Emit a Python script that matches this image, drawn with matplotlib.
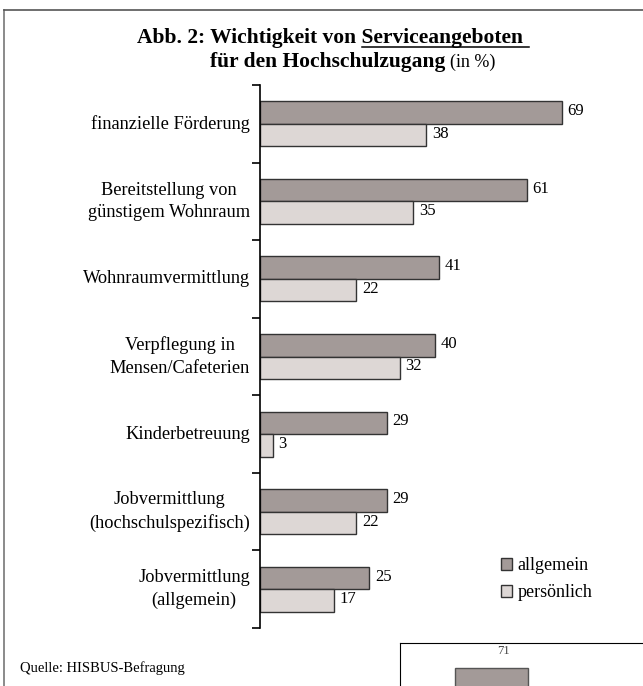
import matplotlib.pyplot as plt
from matplotlib.lines import Line2D
from matplotlib.patches import Patch

# ---------------- Daten ----------------
kategorien = ['finanzielle Förderung',
              'Bereitstellung von\ngünstigem Wohnraum',
              'Wohnraumvermittlung',
              'Verpflegung in\nMensen/Cafeterien',
              'Kinderbetreuung',
              'Jobvermittlung\n(hochschulspezifisch)',
              'Jobvermittlung\n(allgemein)']
allgemein = [69, 61, 41, 40, 29, 29, 25]
persoenlich = [38, 35, 22, 32, 3, 22, 17]
naechste_grafik = [71]

cor_escura = '#a39a98'
cor_clara = '#ddd7d5'
borda = '#333333'

plt.rcParams['font.family'] = ['Liberation Serif', 'DejaVu Serif']

W, H = 643, 686
fig = plt.figure(figsize=(W / 100, H / 100), dpi=100)

# ---------------- moldura ----------------
fig.add_artist(Line2D([4 / W, 4 / W], [0, 1 - 10 / H], color='#777777', lw=1.2))
fig.add_artist(Line2D([4 / W, 1], [1 - 10 / H, 1 - 10 / H], color='#555555', lw=1.2))

# ---------------- grafico principal ----------------
ax = fig.add_axes([260 / W, 1 - 628 / H, 340 / W, 543 / H])
y = list(range(len(kategorien)))
h = 0.29
ax.barh([i - h / 2 for i in y], allgemein, height=h, color=cor_escura, edgecolor=borda, linewidth=1)
ax.barh([i + h / 2 for i in y], persoenlich, height=h, color=cor_clara, edgecolor=borda, linewidth=1)

for i in y:
    ax.annotate(str(allgemein[i]), (allgemein[i], i - h / 2), xytext=(4, 1), textcoords='offset points',
                va='center', ha='left', fontsize=12)
    ax.annotate(str(persoenlich[i]), (persoenlich[i], i + h / 2), xytext=(4, 1), textcoords='offset points',
                va='center', ha='left', fontsize=12)
    ax.text(-2.3, i, kategorien[i], ha='right', va='center', multialignment='center',
            fontsize=13.2, linespacing=1.4)

ax.set_xlim(0, 340 / 4.377)
ax.set_ylim(len(kategorien) - 0.5, -0.5)
for s in ['top', 'right', 'bottom']:
    ax.spines[s].set_visible(False)
ax.spines['left'].set_linewidth(1.2)
ax.set_xticks([])
ax.set_yticks([i - 0.5 for i in range(len(kategorien) + 1)])
ax.set_yticklabels([])
ax.tick_params(axis='y', direction='out', length=6, width=1.2)

# ---------------- legenda ----------------
handles = [Patch(facecolor=cor_escura, edgecolor=borda, label='allgemein'),
           Patch(facecolor=cor_clara, edgecolor=borda, label='persönlich')]
fig.legend(handles=handles, loc='upper left', bbox_to_anchor=(494 / W, 1 - 550 / H),
           frameon=False, fontsize=13, handlelength=0.6, handleheight=0.6,
           handletextpad=0.3, labelspacing=0.55, borderaxespad=0)

# ---------------- titulo ----------------
linha1 = fig.text(333 / W, 1 - 38 / H, 'Abb. 2: Wichtigkeit von Serviceangeboten ', ha='center', va='center',
                  fontsize=15.5, fontweight='bold')
t2 = fig.text(210 / W, 1 - 62 / H, 'für den Hochschulzugang', ha='left', va='center',
              fontsize=15.5, fontweight='bold')
fig.canvas.draw()
r = fig.canvas.get_renderer()
bb2 = t2.get_window_extent(r)
fig.text((bb2.x1 + 5) / W, 1 - 62 / H, '(in %)', ha='left', va='center', fontsize=13)

bb1 = linha1.get_window_extent(r)
medida = fig.text(0, 0, 'Serviceangeboten ', fontsize=15.5, fontweight='bold', alpha=0)
ws = medida.get_window_extent(r).width
yl = (bb1.y0 + 1) / H
fig.add_artist(Line2D([(bb1.x1 - ws) / W, bb1.x1 / W], [yl, yl], color='black', lw=1.1))

# ---------------- fonte ----------------
fig.text(20 / W, 1 - 668 / H, 'Quelle: HISBUS-Befragung', ha='left', va='center', fontsize=10.5)

# ---------------- inicio do grafico seguinte (cortado) ----------------
px = 2.78
ax2 = fig.add_axes([400 / W, (H - 643 - 80 * px) / H, 250 / W, 80 * px / H])
ax2.bar([91 / 250], naechste_grafik, width=73 / 250, color=cor_escura, edgecolor='#555555', linewidth=1)
ax2.text(103 / 250, naechste_grafik[0] + 6, str(naechste_grafik[0]), ha='center',
         va='center', fontsize=9, color='#444444')
ax2.set_xlim(0, 1)
ax2.set_ylim(0, 80)
ax2.set_xticks([])
ax2.set_yticks([])
ax2.spines['right'].set_visible(False)
ax2.spines['bottom'].set_visible(False)
ax2.patch.set_alpha(0)

fig.savefig('out.png', dpi=100)
